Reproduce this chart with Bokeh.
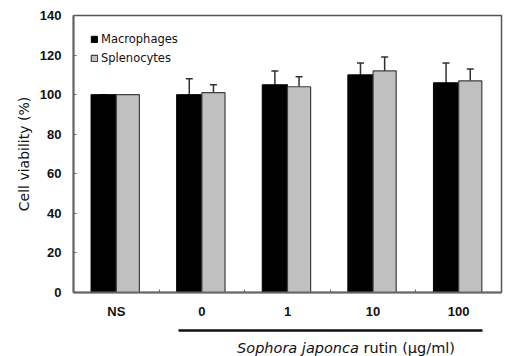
from bokeh.plotting import figure
from bokeh.layouts import column
from bokeh.models import (ColumnDataSource, Range1d, FixedTicker, LinearAxis, Whisker,
                          TeeHead)
from bokeh.core.properties import value
from bokeh.embed import file_html
from bokeh.resources import INLINE

# ---- data ----
categories = ["NS", "0", "1", "10", "100"]
macrophages = [100, 100, 105, 110, 106]
macrophages_err = [0, 8, 7, 6, 10]
splenocytes = [100, 101, 104, 112, 107]
splenocytes_err = [0, 4, 5, 7, 6]
y_ticks = [0, 20, 40, 60, 80, 100, 120, 140]
caption_italic = "Sophora japonca"
caption_rest = "\u00a0rutin (\u03bcg/ml)"

idx = list(range(len(categories)))
mac_x = [i - 0.1475 for i in idx]
spl_x = [i + 0.135 for i in idx]

src_m = ColumnDataSource(dict(x=mac_x, top=macrophages,
                              upper=[v + e for v, e in zip(macrophages, macrophages_err)]))
src_s = ColumnDataSource(dict(x=spl_x, top=splenocytes,
                              upper=[v + e for v, e in zip(splenocytes, splenocytes_err)]))

p = figure(width=505, height=336, output_backend="svg", toolbar_location=None,
           x_range=Range1d(-0.5, len(categories) - 0.5), y_range=Range1d(0, 140),
           min_border_left=73, min_border_right=4, min_border_top=15, min_border_bottom=44,
           x_axis_type=None, y_axis_type=None)
p.grid.visible = False
p.outline_line_color = "#555555"
p.outline_line_width = 1.5

for src in (src_m, src_s):
    w = Whisker(base="x", lower="top", upper="upper", source=src, dimension="height",
                line_color="#303030", line_width=1.5,
                lower_head=None, upper_head=TeeHead(size=7, line_color="#303030", line_width=1.5))
    p.add_layout(w)

p.vbar(x="x", top="top", width=0.295, bottom=0, source=src_m,
       fill_color="black", line_color="black", line_width=1, legend_label="Macrophages")
p.vbar(x="x", top="top", width=0.27, bottom=0, source=src_s,
       fill_color="#c0c0c0", line_color="#404040", line_width=1.2, legend_label="Splenocytes")

# y axis
yax = LinearAxis(ticker=FixedTicker(ticks=y_ticks))
yax.axis_label = "Cell viability (%)"
yax.axis_label_text_font = "DejaVu Sans"
yax.axis_label_text_font_size = "14px"
yax.axis_label_text_font_style = "normal"
yax.axis_label_text_color = "#111111"
yax.axis_label_standoff = 5
yax.major_label_text_font = "Liberation Sans"
yax.major_label_text_font_style = "bold"
yax.major_label_text_font_size = "13px"
yax.major_label_text_color = "#111111"
yax.major_label_standoff = 12
yax.major_tick_in = 3
yax.major_tick_out = 0
yax.minor_tick_in = 0
yax.minor_tick_out = 0
yax.axis_line_color = "#666666"
yax.axis_line_width = 2
yax.major_tick_line_color = "#666666"
p.add_layout(yax, "left")

# x axis with category labels
xax = LinearAxis(ticker=FixedTicker(ticks=idx, minor_ticks=[i + 0.5 for i in idx[:-1]]))
xax.major_label_overrides = {i: c for i, c in zip(idx, categories)}
xax.major_label_text_font = "Liberation Sans"
xax.major_label_text_font_style = "bold"
xax.major_label_text_font_size = "13px"
xax.major_label_text_color = "#111111"
xax.major_label_standoff = 11
xax.major_tick_in = 0
xax.major_tick_out = 0
xax.minor_tick_in = 3
xax.minor_tick_out = 0
xax.minor_tick_line_color = "#666666"
xax.axis_line_color = "#666666"
xax.axis_line_width = 2
xax.axis_label = "\u00a0"
xax.axis_label_text_font_size = "6px"
xax.axis_label_standoff = 0
p.add_layout(xax, "below")

# underline spanning the treated groups
uax = LinearAxis(ticker=FixedTicker(ticks=[]), bounds=(0.727, 4.278))
uax.axis_line_color = "#111111"
uax.axis_line_width = 2.5
uax.major_tick_in = 0
uax.major_tick_out = 0
uax.minor_tick_in = 0
uax.minor_tick_out = 0
uax.major_label_text_font_size = "0px"
p.add_layout(uax, "below")

# legend
lg = p.legend[0]
lg.location = "top_left"
lg.border_line_color = None
lg.background_fill_alpha = 0
lg.glyph_width = 8
lg.glyph_height = 8
lg.label_standoff = 3
lg.label_height = 14
lg.spacing = 5
lg.padding = 8
lg.margin = 17
lg.label_text_font = "DejaVu Sans"
lg.label_text_font_size = "11.5px"
lg.label_text_color = "#111111"

# caption strip below the chart
cap = figure(width=505, height=20, output_backend="svg", toolbar_location=None,
             x_range=p.x_range, y_range=Range1d(0, 20),
             min_border_left=73, min_border_right=4, min_border_top=0, min_border_bottom=0,
             x_axis_type=None, y_axis_type=None)
cap.grid.visible = False
cap.outline_line_color = None
cap_src = ColumnDataSource(dict(x=[2.834], y=[9], a=[caption_italic], b=[caption_rest]))
cap.text(x="x", y="y", text="a", source=cap_src, text_align="right", text_baseline="middle",
         text_font=value("DejaVu Sans"), text_font_size="14.5px", text_font_style="italic",
         text_color="#111111")
cap.text(x="x", y="y", text="b", source=cap_src, text_align="left", text_baseline="middle",
         text_font=value("DejaVu Sans"), text_font_size="14.5px", text_color="#111111")

layout = column(p, cap, spacing=0)
open("out.html", "w").write(file_html(layout, INLINE))
